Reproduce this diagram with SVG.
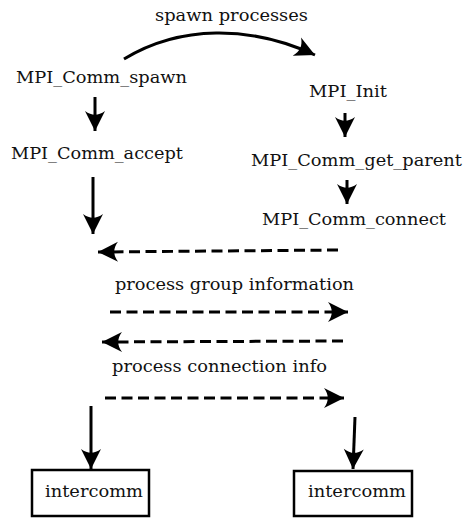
<svg xmlns="http://www.w3.org/2000/svg" width="466" height="518" viewBox="0 0 466 518">
<style>
text{font-family:"DejaVu Serif",serif;font-size:16.5px;fill:#111}
.ln{fill:none;stroke:#000;stroke-width:3}
.ds{fill:none;stroke:#000;stroke-width:3;stroke-dasharray:11,5.5}
.box{fill:#fff;stroke:#000;stroke-width:2.5}
</style>
<defs>
<marker id="ah" markerUnits="userSpaceOnUse" viewBox="-22 -11 24 22" refX="0" refY="0" markerWidth="24" markerHeight="22" orient="auto" overflow="visible">
<path d="M0,0 L-20,-10 C-15,-3 -15,3 -20,10 Z" fill="#000"/>
</marker>
</defs>
<g id="connectors">
<path class="ln" d="M124,59 C180,25 250,25 315,55" marker-end="url(#ah)"/>
<path class="ln" d="M95,97 L95,131" marker-end="url(#ah)"/>
<path class="ln" d="M345,113 L345,137" marker-end="url(#ah)"/>
<path class="ln" d="M347,180 L347,204" marker-end="url(#ah)"/>
<path class="ln" d="M93,177 L93,234" marker-end="url(#ah)"/>
<path class="ds" d="M338,250 L98,252" marker-end="url(#ah)"/>
<path class="ds" d="M110,312 L348,312" marker-end="url(#ah)"/>
<path class="ds" d="M343,341 L102,342" marker-end="url(#ah)"/>
<path class="ds" d="M105,398 L344,398" marker-end="url(#ah)"/>
<path class="ln" d="M91,406 L91,469" marker-end="url(#ah)"/>
<path class="ln" d="M355,417 L353,469" marker-end="url(#ah)"/>
</g>
<g id="label-spawn"><text x="155" y="21" textLength="153" lengthAdjust="spacingAndGlyphs">spawn processes</text></g>
<g id="node-spawn"><text x="16" y="83" textLength="171" lengthAdjust="spacingAndGlyphs">MPI_Comm_spawn</text></g>
<g id="node-accept"><text x="11" y="159" textLength="172" lengthAdjust="spacingAndGlyphs">MPI_Comm_accept</text></g>
<g id="node-init"><text x="309" y="97" textLength="78" lengthAdjust="spacingAndGlyphs">MPI_Init</text></g>
<g id="node-getparent"><text x="251" y="166" textLength="211" lengthAdjust="spacingAndGlyphs">MPI_Comm_get_parent</text></g>
<g id="node-connect"><text x="262" y="225" textLength="184" lengthAdjust="spacingAndGlyphs">MPI_Comm_connect</text></g>
<g id="label-group"><text x="115" y="290" textLength="239" lengthAdjust="spacingAndGlyphs">process group information</text></g>
<g id="label-conn"><text x="112" y="372" textLength="215" lengthAdjust="spacingAndGlyphs">process connection info</text></g>
<g id="node-intercomm-left">
<rect class="box" x="32" y="470" width="117" height="46"/>
<text x="45" y="497" textLength="98" lengthAdjust="spacingAndGlyphs">intercomm</text>
</g>
<g id="node-intercomm-right">
<rect class="box" x="294" y="471" width="118" height="45"/>
<text x="308" y="497" textLength="98" lengthAdjust="spacingAndGlyphs">intercomm</text>
</g>
</svg>
